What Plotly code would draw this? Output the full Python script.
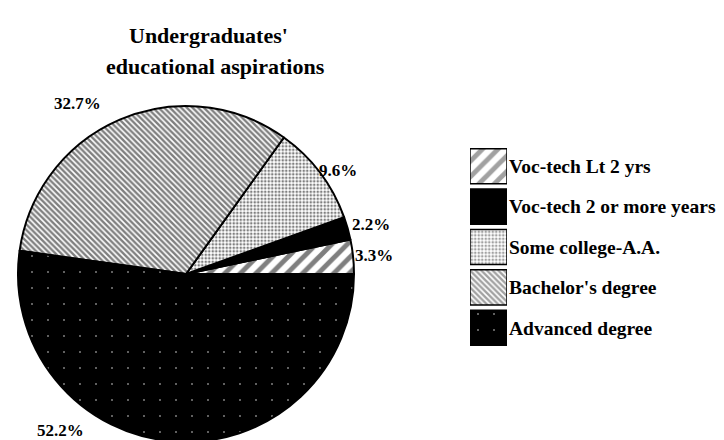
import plotly.graph_objects as go

# data
categories = ["Voc-tech Lt 2 yrs", "Voc-tech 2 or more years", "Some college-A.A.",
              "Bachelor's degree", "Advanced degree"]
shares = [3.3, 2.2, 9.6, 32.7, 52.2]
title_lines = ["Undergraduates'", "educational aspirations"]

# fill styles, one per slice (same order as categories)
bg = ["white", "black", "white", "white", "black"]
fg = ["black", "black", "black", "black", "white"]
shape = ["/", "", ".", "\\", "."]
psize = [11, 8, 3.5, 4, 16]
solid = [0.45, 0.3, 0.45, 0.6, 0.012]

# where the percent labels sit (paper px from top-left), same order
label_xy = [(366, 247), (363, 216), (330, 162), (69, 95), (53, 422)]
title_xy = [(200, 27), (207, 58)]

W, H = 724, 440
serif = "Liberation Serif"

# plotly puts the END of the first slice at `rotation` when going counterclockwise,
# so shift by the first slice to start it at 3 o'clock
rot = 90 - 360 * shares[0] / sum(shares)

fig = go.Figure()

fig.add_trace(go.Pie(
    labels=categories, values=shares, sort=False,
    direction="counterclockwise", rotation=rot,
    textinfo="none", hoverinfo="label+percent", showlegend=False,
    marker=dict(colors=bg, line=dict(color="black", width=2),
                pattern=dict(shape=shape, fgcolor=fg, bgcolor=bg, size=psize,
                             solidity=solid, fillmode="overlay")),
    domain=dict(x=[10 / W, 346 / W], y=[6 / H, 342 / H]),
))

# legend swatches drawn as bars so they can carry the same fills
fig.add_trace(go.Bar(
    y=categories, x=[1] * len(categories), orientation="h",
    showlegend=False, hoverinfo="y",
    marker=dict(color=bg, line=dict(color="black", width=1.5),
                pattern=dict(shape=shape, fgcolor=fg, bgcolor=bg, size=psize,
                             solidity=solid, fillmode="overlay")),
    xaxis="x", yaxis="y",
))

for (px, py), v in zip(label_xy, shares):
    fig.add_annotation(x=px / W, y=1 - py / H, xref="paper", yref="paper",
                       xanchor="center", yanchor="middle", borderpad=0,
                       text=f"{v:.1f}%", showarrow=False,
                       font=dict(family=serif, size=17, color="black", weight="bold"))

for (px, py), line in zip(title_xy, title_lines):
    fig.add_annotation(x=px / W, y=1 - py / H, xref="paper", yref="paper",
                       xanchor="center", yanchor="middle",
                       text=line, showarrow=False,
                       font=dict(family=serif, size=22, color="black", weight="bold"))

fig.update_layout(
    width=W, height=H,
    margin=dict(l=0, r=0, t=0, b=0),
    paper_bgcolor="white", plot_bgcolor="white",
    bargap=0.13,
    xaxis=dict(domain=[462 / W, 499 / W], range=[0, 1], visible=False, fixedrange=True),
    yaxis=dict(domain=[100 / H, 302 / H], side="right", autorange="reversed",
               showgrid=False, zeroline=False, showline=False, ticks="",
               ticklabelstandoff=1, fixedrange=True,
               tickfont=dict(family=serif, size=19.5, color="black", weight="bold")),
)

fig.write_html("out.html")
